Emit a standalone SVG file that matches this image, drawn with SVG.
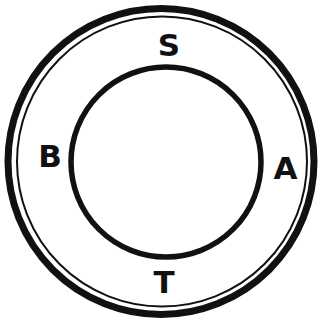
<svg xmlns="http://www.w3.org/2000/svg" width="324" height="326" viewBox="0 0 324 326">
<style>
.ring{fill:none;stroke:#111}
.lbl{font-family:"DejaVu Sans","Liberation Sans",Arial,sans-serif;font-weight:bold;font-size:31px;fill:#111;text-anchor:middle}
</style>
<rect width="324" height="326" fill="#fff"/>
<g id="outer-ring">
<circle class="ring" cx="161" cy="161.5" r="153" stroke-width="7"/>
<circle class="ring" cx="162" cy="161.5" r="145" stroke-width="2"/>
</g>
<g id="inner-circle">
<circle class="ring" cx="166" cy="162" r="95" stroke-width="5.5"/>
</g>
<g id="label-S"><text class="lbl" x="169" y="56">S</text></g>
<g id="label-B"><text class="lbl" x="50" y="167">B</text></g>
<g id="label-A"><text class="lbl" x="285.5" y="179">A</text></g>
<g id="label-T"><text class="lbl" x="164" y="293">T</text></g>
</svg>
